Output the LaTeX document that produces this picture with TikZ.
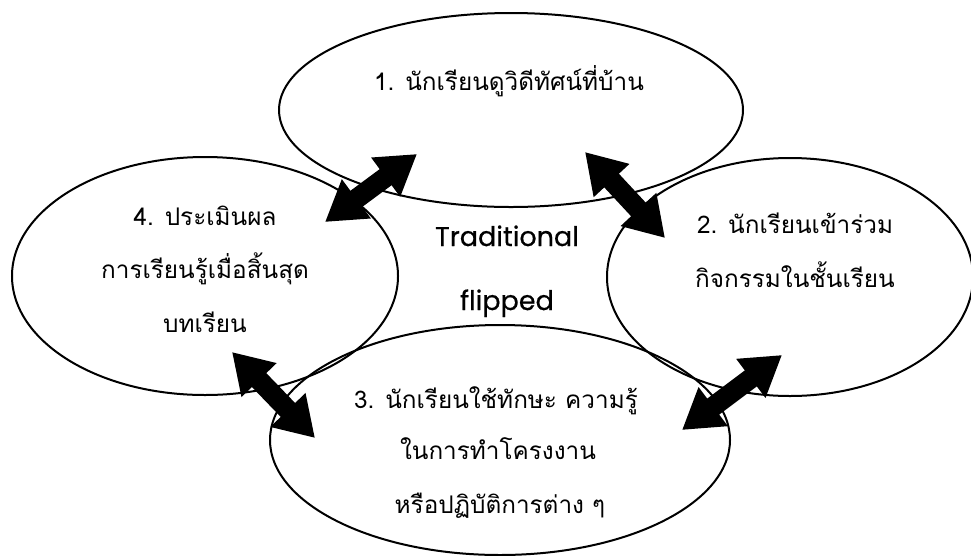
\documentclass[tikz,border=0pt]{standalone}
\usepackage{fontspec}
\setmainfont{Poppins}
\newfontfamily\latinfont[FakeBold=0.5]{Poppins}
\newfontfamily\thaifont[Script=Thai]{Loma}
\usetikzlibrary{shapes.geometric,arrows.meta}

\tikzset{
  stage/.style={ellipse, draw=black, line width=2pt, inner sep=0pt},
  thaitext/.style={anchor=base, font=\thaifont\fontsize{24.3}{28}\selectfont},
  midtext/.style={anchor=base, font=\latinfont\fontsize{27}{30}\selectfont},
  link/.style={line width=20pt, black,
    {Triangle[length=39pt,width=46pt]}-{Triangle[length=39pt,width=46pt]}}
}

\begin{document}
\begin{tikzpicture}[x=1pt,y=-1pt]
\useasboundingbox (0,0) rectangle (971,555);

% the four stages of the cycle
\node[stage, minimum width=464pt, minimum height=194pt] (home)    at (511,110) {};
\node[stage, minimum width=386pt, minimum height=238pt] (assess)  at (205,276) {};
\node[stage, minimum width=366pt, minimum height=238pt] (class)   at (790,277) {};
\node[stage, minimum width=460pt, minimum height=230pt] (project) at (500,440) {};

% labels
\node[thaitext] (t1)  at (509,90)  {1. นักเรียนดูวิดีทัศน์ที่บ้าน};
\node[thaitext] (t4a) at (205,225) {4. ประเมินผล};
\node[thaitext] (t4b) at (205,278) {การเรียนรู้เมื่อสิ้นสุด};
\node[thaitext] (t4c) at (205,332) {บทเรียน};
\node[thaitext] (t2a) at (795,233) {2. นักเรียนเข้าร่วม};
\node[thaitext] (t2b) at (795,287) {กิจกรรมในชั้นเรียน};
\node[thaitext] (t3a) at (496,408) {3. นักเรียนใช้ทักษะ ความรู้};
\node[thaitext] (t3b) at (498,459) {ในการทำโครงงาน};
\node[thaitext] (t3c) at (500,513) {หรือปฏิบัติการต่าง ๆ};
\node[midtext] (trad) at (507,246) {Traditional};
\node[midtext] (flip) at (507,310) {flipped};

% arrow ends inside the stages
\coordinate (a4) at (325,222);
\coordinate (a1l) at (417,154);
\coordinate (a1r) at (585,152);
\coordinate (a2t) at (665,238);
\coordinate (a2b) at (782,355);
\coordinate (a3r) at (682,430);
\coordinate (a3l) at (315,438);
\coordinate (a4b) at (232,352);

% double-headed links between neighbouring stages
\draw[link] (a4) -- (a1l);
\draw[link] (a1r) -- (a2t);
\draw[link] (a2b) -- (a3r);
\draw[link] (a3l) -- (a4b);
\end{tikzpicture}
\end{document}
